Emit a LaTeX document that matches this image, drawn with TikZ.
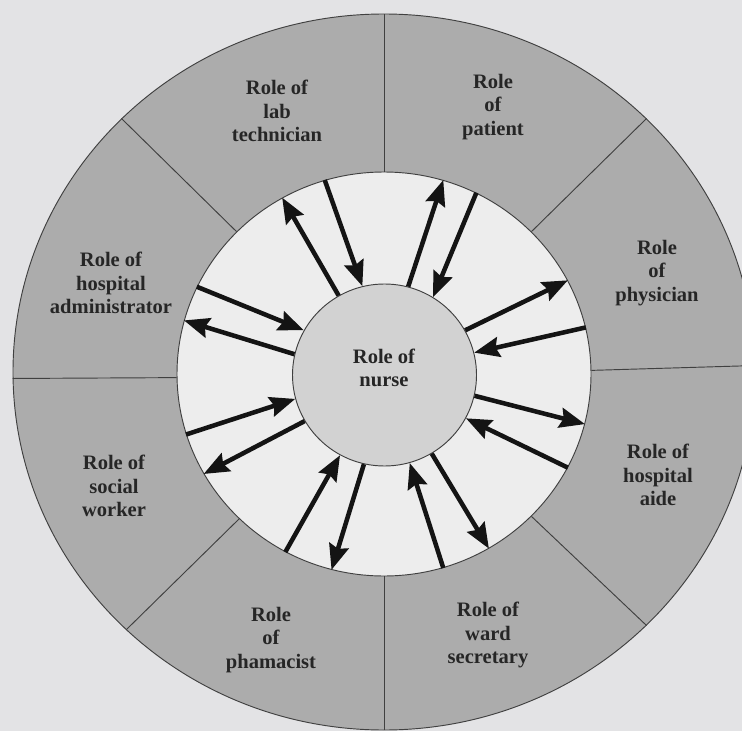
\documentclass[tikz,border=0pt]{standalone}
\usepackage{fontspec}
\setmainfont{Liberation Serif}
\usetikzlibrary{arrows.meta,shapes.geometric}
\definecolor{bg}{HTML}{E3E3E5}
\definecolor{ringgray}{HTML}{ACACAC}
\definecolor{innerwhite}{HTML}{EDEDED}
\definecolor{nursegray}{HTML}{D2D2D2}
\begin{document}
\begin{tikzpicture}[x=0.75pt,y=-0.75pt,
  lbl/.style={font=\bfseries\fontsize{15.4}{17.6}\selectfont, align=center, text=black!85, inner sep=0pt},
  ringshape/.style={ellipse, draw=black!75, line width=0.7pt, inner sep=0pt},
  arr/.style={line width=3.4pt, draw=black!92, -{Stealth[length=19pt,width=15pt,inset=2.5pt]}},
  divider/.style={draw=black!75, line width=0.7pt}]
\clip (0,0) rectangle (742,731);
\fill[bg] (0,0) rectangle (742,731);
\node[ringshape, fill=ringgray, minimum width=556.5pt, minimum height=537pt] (outer) at (384,372) {};
\node[ringshape, fill=innerwhite, minimum width=310.5pt, minimum height=303pt] (mid) at (384,374) {};
\node[ringshape, fill=nursegray, minimum width=138pt, minimum height=136.5pt] (nurse) at (384.5,375) {};
% sector dividers
\foreach \a in {90.3,44.6,1.1,316.5,270.4,225.2,181.3,136.5}
  \draw[divider] (mid.\a) -- (outer.\a);
% arrows: outward (nurse -> role) and inward (role -> nurse)
\draw[arr] (nurse.120.6) -- (mid.120.6);
\draw[arr] (mid.107.4) -- (nurse.104.8);
\draw[arr] (nurse.75.2) -- (mid.73.3);
\draw[arr] (mid.63.1) -- (nurse.58.8);
\draw[arr] (nurse.29.6) -- (mid.27.0);
\draw[arr] (mid.13.8) -- (nurse.14.9);
\draw[arr] (nurse.-13.4) -- (mid.-14.5);
\draw[arr] (mid.-27.4) -- (nurse.-28.5);
\draw[arr] (nurse.-59.2) -- (mid.-59.3);
\draw[arr] (mid.-73.2) -- (nurse.-74.5);
\draw[arr] (nurse.-103) -- (mid.-105);
\draw[arr] (mid.-119.5) -- (nurse.-119.2);
\draw[arr] (mid.197.5) -- (nurse.195.6);
\draw[arr] (nurse.210.5) -- (mid.209.7);
\draw[arr] (mid.155.3) -- (nurse.151.5);
\draw[arr] (nurse.167.6) -- (mid.165.3);
% labels
\node[lbl] (tnurse) at (384,368) {Role of\\nurse};
\node[lbl] (tlab) at (277,111) {Role of\\lab\\technician};
\node[lbl] (tpat) at (493,107) {Role\\of\\patient};
\node[lbl] (tphys) at (657,273) {Role\\of\\physician};
\node[lbl] (taide) at (658,475) {Role of\\hospital\\aide};
\node[lbl] (tward) at (488,635) {Role of\\ward\\secretary};
\node[lbl] (tpharm) at (271,640) {Role\\of\\phamacist};
\node[lbl] (tsoc) at (114,486) {Role of\\social\\worker};
\node[lbl] (tadm) at (111,283) {Role of\\hospital\\administrator};
\end{tikzpicture}
\end{document}
